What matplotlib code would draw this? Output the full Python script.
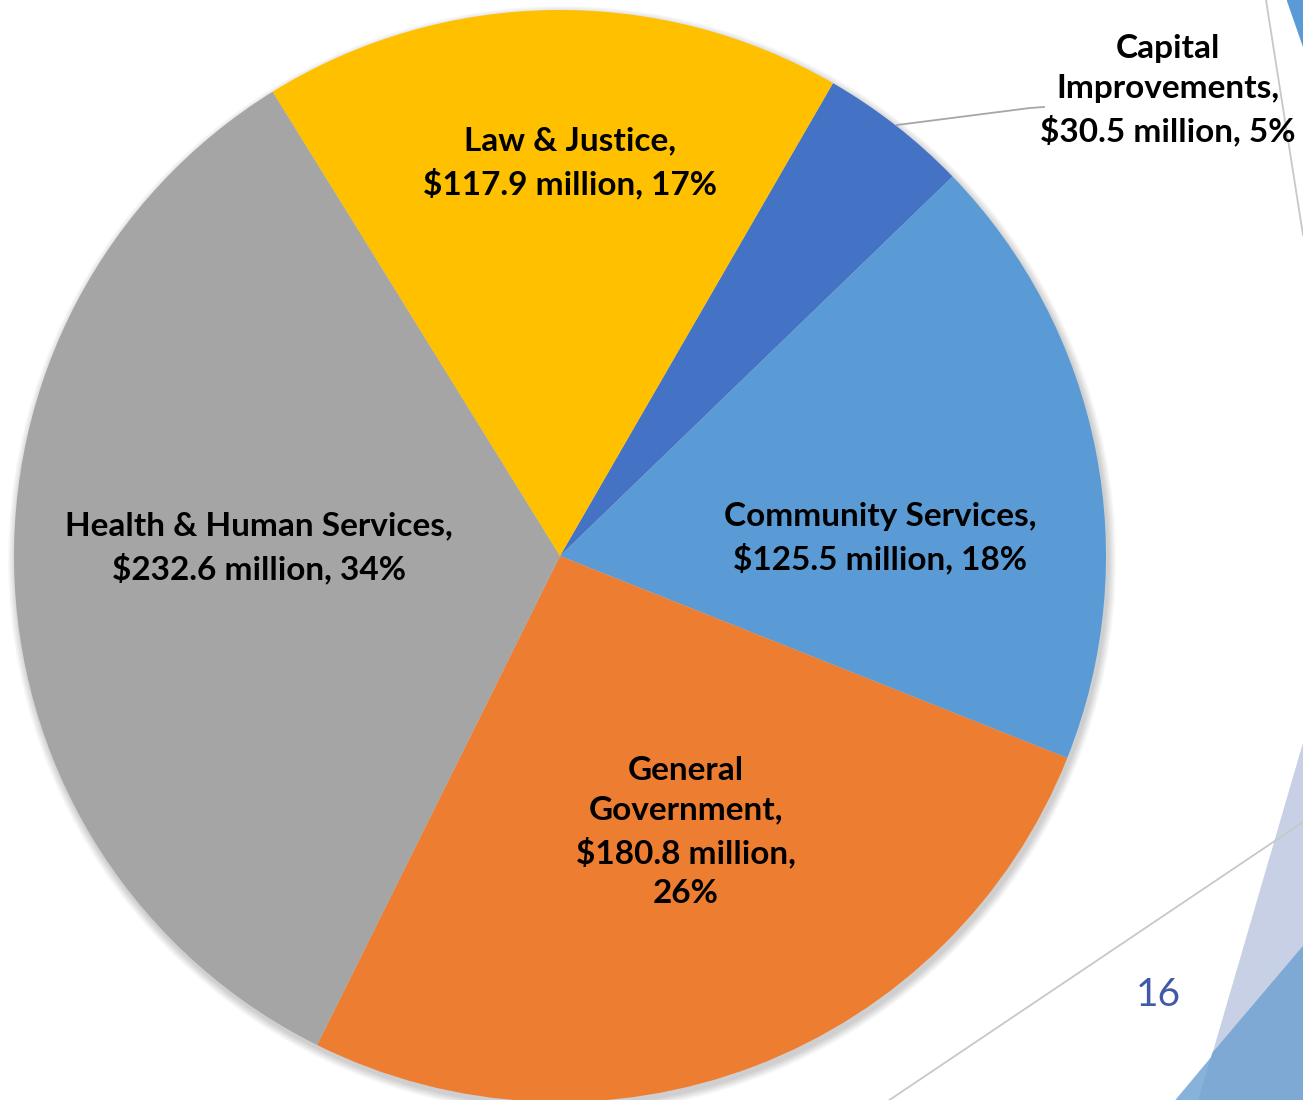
import matplotlib.pyplot as plt
from matplotlib.patches import Polygon, Circle

# County budget by function, millions of dollars
categories = ["Capital\nImprovements", "Community Services", "General\nGovernment",
              "Health & Human Services", "Law & Justice"]
amounts = [30.5, 125.5, 180.8, 232.6, 117.9]
percents = [5, 18, 26, 34, 17]
colors = ["#4472C4", "#5B9BD5", "#ED7D31", "#A5A5A5", "#FFC000"]

W, H = 1303, 1100
fig = plt.figure(figsize=(W / 100, H / 100), dpi=100)
ax = fig.add_axes([0, 0, 1, 1])
ax.set_xlim(0, W)
ax.set_ylim(0, H)
ax.set_aspect("equal")
ax.axis("off")

def py(y):
    # pixel row (from top) -> data y
    return H - y

# slide background decorations
ax.add_patch(Polygon([(1287, py(0)), (1310, py(0)), (1310, py(66))],
                     closed=True, color="#5B9BD5", zorder=0))
ax.plot([1266, 1303], [py(0), py(235)], color="#C8C8C8", lw=1.3, zorder=0)
ax.add_patch(Polygon([(1303, py(743)), (1310, py(743)), (1310, py(1110)), (1196, py(1110))],
                     closed=True, color="#C7D0E4", zorder=0))
ax.add_patch(Polygon([(1303, py(947)), (1310, py(947)), (1310, py(1110)), (1167, py(1110))],
                     closed=True, color="#87B2DA", zorder=0))
ax.add_patch(Polygon([(1303, py(947)), (1310, py(947)), (1310, py(1110)), (1196, py(1110)),
                      (1213, py(1053))],
                     closed=True, color="#7EA9D4", zorder=0))
ax.plot([1303, 885], [py(822), py(1103)], color="#C8C8C8", lw=1.3, zorder=1)
ax.text(1158, py(995), "16", fontsize=28, color="#3F5AA8", family="Lato",
        ha="center", va="center")

# soft shadow under the pie
cx, cy, r = 560, py(556), 546
for i in range(8):
    ax.add_patch(Circle((cx + 2, cy - 4), r + 8 - i, color="black", alpha=0.025,
                        lw=0, zorder=1))

wedges, _ = ax.pie(amounts, colors=colors, startangle=60, counterclock=False,
                   center=(cx, cy), radius=r, frame=True,
                   wedgeprops=dict(linewidth=0, zorder=2))
ax.set_xlim(0, W)
ax.set_ylim(0, H)
ax.axis("off")

# data labels
label_pos = [(1168, 90), (880, 538), (686, 832), (259, 548), (570, 163)]
for name, amt, pct, (lx, ly) in zip(categories, amounts, percents, label_pos):
    if name.startswith("General"):
        txt = f"{name},\n\\${amt} million,\n{pct}%"
    else:
        txt = f"{name},\n\\${amt} million, {pct}%"
    ax.text(lx, py(ly), txt, ha="center", va="center", fontsize=24,
            fontweight="bold", family="Lato", linespacing=1.45, zorder=5)

# leader line for the small slice
ax.plot([897, 1030, 1044], [py(125), py(108), py(107)], color="#A6A6A6", lw=1.3, zorder=3)

fig.savefig("out.png", dpi=100)
